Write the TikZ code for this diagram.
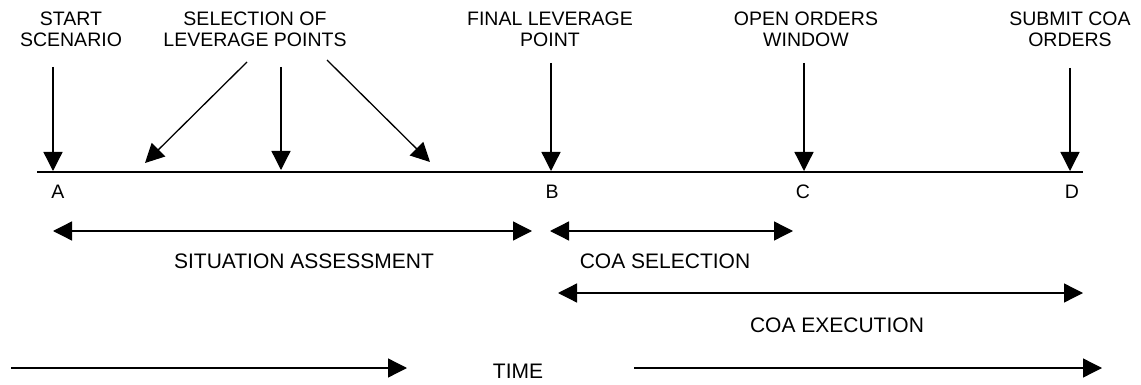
\documentclass[tikz,border=0pt]{standalone}
\usepackage{fontspec}
\setmainfont{Liberation Sans}
\usetikzlibrary{arrows.meta}
\begin{document}
\begin{tikzpicture}[x=1pt,y=-1pt,
  lbl/.style={font=\fontsize{19.5}{20.5}\selectfont, inner sep=0pt, align=center},
  toplbl/.style={lbl, anchor=north},
  baselbl/.style={lbl, anchor=base},
  durlbl/.style={baselbl, font=\fontsize{21}{22}\selectfont},
  evarrow/.style={line width=1.3pt, -{Triangle[length=19pt,width=19pt]}},
  durarrow/.style={line width=1.3pt, {Triangle[length=19pt,width=19pt]}-{Triangle[length=19pt,width=19pt]}},
  timearrow/.style={line width=1.3pt, -{Triangle[length=19pt,width=19pt]}},
  timeline/.style={line width=2pt}]
\useasboundingbox (0,0) rectangle (1141,385);

% top labels
\node[toplbl] (start)  at (71,12)   {START\\SCENARIO};
\node[toplbl] (sel)    at (255,12)  {SELECTION OF\\LEVERAGE POINTS};
\node[toplbl] (final)  at (550,12)  {FINAL LEVERAGE\\POINT};
\node[toplbl] (open)   at (806,12)  {OPEN ORDERS\\WINDOW};
\node[toplbl] (submit) at (1070,12) {SUBMIT COA\\ORDERS};

% timeline
\coordinate (tl0) at (37,172);
\coordinate (tl1) at (1083,172);
\draw[timeline] (tl0) -- (tl1);

% point labels
\node[baselbl] (A) at (58,198)   {A};
\node[baselbl] (B) at (552,198)  {B};
\node[baselbl] (C) at (803,198)  {C};
\node[baselbl] (D) at (1072,198) {D};

% event arrows
\coordinate (a0) at (53,67);   \coordinate (a1) at (53,171);
\coordinate (l10) at (247,62); \coordinate (l11) at (145,163);
\coordinate (l20) at (281,67); \coordinate (l21) at (281,170);
\coordinate (l30) at (327,60); \coordinate (l31) at (430,162);
\coordinate (b0) at (551,63);  \coordinate (b1) at (551,171);
\coordinate (c0) at (804,63);  \coordinate (c1) at (804,171);
\coordinate (d0) at (1070,68); \coordinate (d1) at (1070,171);
\draw[evarrow] (a0) -- (a1);
\draw[evarrow] (l10) -- (l11);
\draw[evarrow] (l20) -- (l21);
\draw[evarrow] (l30) -- (l31);
\draw[evarrow] (b0) -- (b1);
\draw[evarrow] (c0) -- (c1);
\draw[evarrow] (d0) -- (d1);

% duration arrows
\coordinate (sa0) at (53,231);  \coordinate (sa1) at (532,231);
\coordinate (cs0) at (550,231); \coordinate (cs1) at (793,231);
\coordinate (ce0) at (558,293); \coordinate (ce1) at (1083,293);
\draw[durarrow] (sa0) -- (sa1);
\draw[durarrow] (cs0) -- (cs1);
\draw[durarrow] (ce0) -- (ce1);
\node[durlbl] (sa) at (304,268) {SITUATION ASSESSMENT};
\node[durlbl] (cs) at (665,268) {COA SELECTION};
\node[durlbl] (ce) at (837,332) {COA EXECUTION};

% time
\coordinate (t0) at (11,368);  \coordinate (t1) at (407,368);
\coordinate (t2) at (634,368); \coordinate (t3) at (1102,368);
\draw[timearrow] (t0) -- (t1);
\draw[timearrow] (t2) -- (t3);
\node[durlbl] (time) at (518,378) {TIME};
\end{tikzpicture}
\end{document}
